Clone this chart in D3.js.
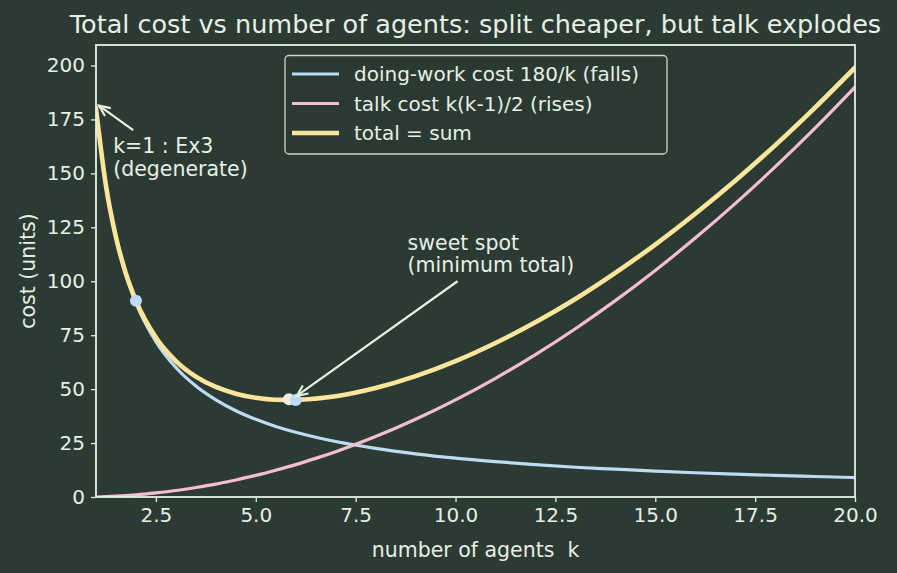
<!DOCTYPE html>
<html>
<head>
<meta charset="utf-8">
<script src="https://cdn.jsdelivr.net/npm/d3@7"></script>
<style>
  html, body { margin: 0; padding: 0; background: #2b3a32; }
  svg text { font-family: "DejaVu Sans", sans-serif; fill: #e8efe6; }
</style>
</head>
<body>
<div id="chart"></div>
<script>
// k values sampled along the x axis
const kValues = [1, 1.25, 1.5, 1.75, 2, 2.5, 3, 3.5, 4, 4.5, 5, 5.5, 6, 6.5, 7, 8, 9, 10, 11, 12, 13, 14, 15, 16, 17, 18, 19, 20];
// doing-work cost (falls)
const workCost = [180, 144, 120, 102.9, 90, 72, 60, 51.4, 45, 40, 36, 32.7, 30, 27.7, 25.7, 22.5, 20, 18, 16.4, 15, 13.8, 12.9, 12, 11.25, 10.6, 10, 9.5, 9];
// talk cost (rises)
const talkCost = [0, 0.16, 0.38, 0.66, 1, 1.9, 3, 4.4, 6, 7.9, 10, 12.4, 15, 17.9, 21, 28, 36, 45, 55, 66, 78, 91, 105, 120, 136, 153, 171, 190];
// total
const totalCost = [180, 144.2, 120.4, 103.5, 91, 73.9, 63, 55.8, 51, 47.9, 46, 45.1, 45, 45.6, 46.7, 50.5, 56, 63, 71.4, 81, 91.8, 103.9, 117, 131.3, 146.6, 163, 180.5, 199];

const seriesNames = ['doing-work cost 180/k (falls)', 'talk cost k(k-1)/2 (rises)', 'total = sum'];
const seriesColors = ['#bddcf4', '#f5bed0', '#fde59b'];
const seriesWidths = [3.2, 3.2, 4.6];

// highlighted points: k=2, continuous minimum, integer minimum
const markK = [2, 5.83, 6];
const markV = [91, 45.3, 45];
const markColors = ['#bddcf4', '#f2efe0', '#bddcf4'];

const xTicks = [2.5, 5, 7.5, 10, 12.5, 15, 17.5, 20];
const yTicks = [0, 25, 50, 75, 100, 125, 150, 175, 200];

const W = 897, H = 573;
const margin = {top: 45, right: 42, bottom: 76, left: 96};
const fg = '#e8efe6';
const fs = 20.5;

const svg = d3.select('#chart').append('svg')
  .attr('width', W).attr('height', H)
  .style('display', 'block');

svg.append('rect').attr('width', W).attr('height', H).attr('fill', '#2b3a32');

const x = d3.scaleLinear().domain([1, 20]).range([margin.left, W - margin.right]);
const y = d3.scaleLinear().domain([0, 209.5]).range([H - margin.bottom, margin.top]);

const defs = svg.append('defs');
defs.append('clipPath').attr('id', 'plotClip')
  .append('rect')
  .attr('x', margin.left).attr('y', margin.top)
  .attr('width', W - margin.left - margin.right)
  .attr('height', H - margin.top - margin.bottom);

// axes
const xAxis = svg.append('g')
  .attr('transform', `translate(0,${H - margin.bottom})`)
  .call(d3.axisBottom(x).tickValues(xTicks).tickFormat(d3.format('.1f')).tickSize(5).tickPadding(6));
const yAxis = svg.append('g')
  .attr('transform', `translate(${margin.left},0)`)
  .call(d3.axisLeft(y).tickValues(yTicks).tickFormat(d3.format('d')).tickSize(5).tickPadding(6));

[xAxis, yAxis].forEach(a => {
  a.select('.domain').remove();
  a.selectAll('line').attr('stroke', fg).attr('stroke-width', 1.3);
  a.selectAll('text').attr('font-size', 20).attr('fill', fg).style('font-family', '"DejaVu Sans", sans-serif');
});

// curves
const plot = svg.append('g').attr('clip-path', 'url(#plotClip)');
const allSeries = [workCost, talkCost, totalCost];
const line = d3.line()
  .x((d, i) => x(kValues[i]))
  .y(d => y(d))
  .curve(d3.curveMonotoneX);

allSeries.forEach((s, i) => {
  plot.append('path')
    .datum(s)
    .attr('d', line)
    .attr('fill', 'none')
    .attr('stroke', seriesColors[i])
    .attr('stroke-width', seriesWidths[i])
    .attr('stroke-linecap', 'square');
});

// marker dots
markK.forEach((k, i) => {
  svg.append('circle')
    .attr('cx', x(k)).attr('cy', y(markV[i]))
    .attr('r', 6)
    .attr('fill', markColors[i]);
});

// frame
svg.append('rect')
  .attr('x', margin.left).attr('y', margin.top)
  .attr('width', W - margin.left - margin.right)
  .attr('height', H - margin.top - margin.bottom)
  .attr('fill', 'none')
  .attr('stroke', fg)
  .attr('stroke-width', 1.8);

// arrows
function arrow(x1, y1, x2, y2) {
  const g = svg.append('g').attr('stroke', fg).attr('stroke-width', 2.2).attr('fill', 'none');
  g.append('line').attr('x1', x1).attr('y1', y1).attr('x2', x2).attr('y2', y2);
  const ang = Math.atan2(y2 - y1, x2 - x1);
  const len = 12, spread = 0.42;
  const pts = [
    [x2 - len * Math.cos(ang - spread), y2 - len * Math.sin(ang - spread)],
    [x2, y2],
    [x2 - len * Math.cos(ang + spread), y2 - len * Math.sin(ang + spread)]
  ];
  g.append('polyline').attr('points', pts.map(p => p.join(',')).join(' '));
}

// sweet spot annotation
arrow(x(10.05), y(100), x(6.0) + 1, y(45) - 4);
svg.append('text').attr('x', x(8.8)).attr('y', y(114.5)).attr('font-size', fs).text('sweet spot');
svg.append('text').attr('x', x(8.8)).attr('y', y(104.3)).attr('font-size', fs).text('(minimum total)');

// k=1 annotation
arrow(x(1.93), y(170), x(1) + 3, y(180) - 3);
svg.append('text').attr('x', x(1.43)).attr('y', y(159.5)).attr('font-size', fs).text('k=1 : Ex3');
svg.append('text').attr('x', x(1.43)).attr('y', y(149)).attr('font-size', fs).text('(degenerate)');

// legend
const lg = svg.append('g');
lg.append('rect')
  .attr('x', 285).attr('y', 55.5).attr('width', 382).attr('height', 98.5)
  .attr('rx', 4)
  .attr('fill', '#2b3a32').attr('fill-opacity', 0.8)
  .attr('stroke', '#cfd8cf').attr('stroke-width', 1.3);
seriesNames.forEach((name, i) => {
  const yy = 74 + i * 29.5;
  lg.append('line')
    .attr('x1', 292).attr('x2', 339).attr('y1', yy).attr('y2', yy)
    .attr('stroke', seriesColors[i]).attr('stroke-width', seriesWidths[i]);
  lg.append('text')
    .attr('x', 354).attr('y', yy).attr('dy', '0.36em')
    .attr('font-size', 20).text(name);
});

// axis labels and title
svg.append('text')
  .attr('x', (margin.left + W - margin.right) / 2).attr('y', 557)
  .attr('text-anchor', 'middle').attr('font-size', fs)
  .attr('xml:space', 'preserve')
  .text('number of agents  k');
svg.append('text')
  .attr('transform', `translate(35,${(margin.top + H - margin.bottom) / 2}) rotate(-90)`)
  .attr('text-anchor', 'middle').attr('font-size', fs)
  .text('cost (units)');
svg.append('text')
  .attr('x', (margin.left + W - margin.right) / 2).attr('y', 33)
  .attr('text-anchor', 'middle').attr('font-size', 25.5)
  .text('Total cost vs number of agents: split cheaper, but talk explodes');
</script>
</body>
</html>
